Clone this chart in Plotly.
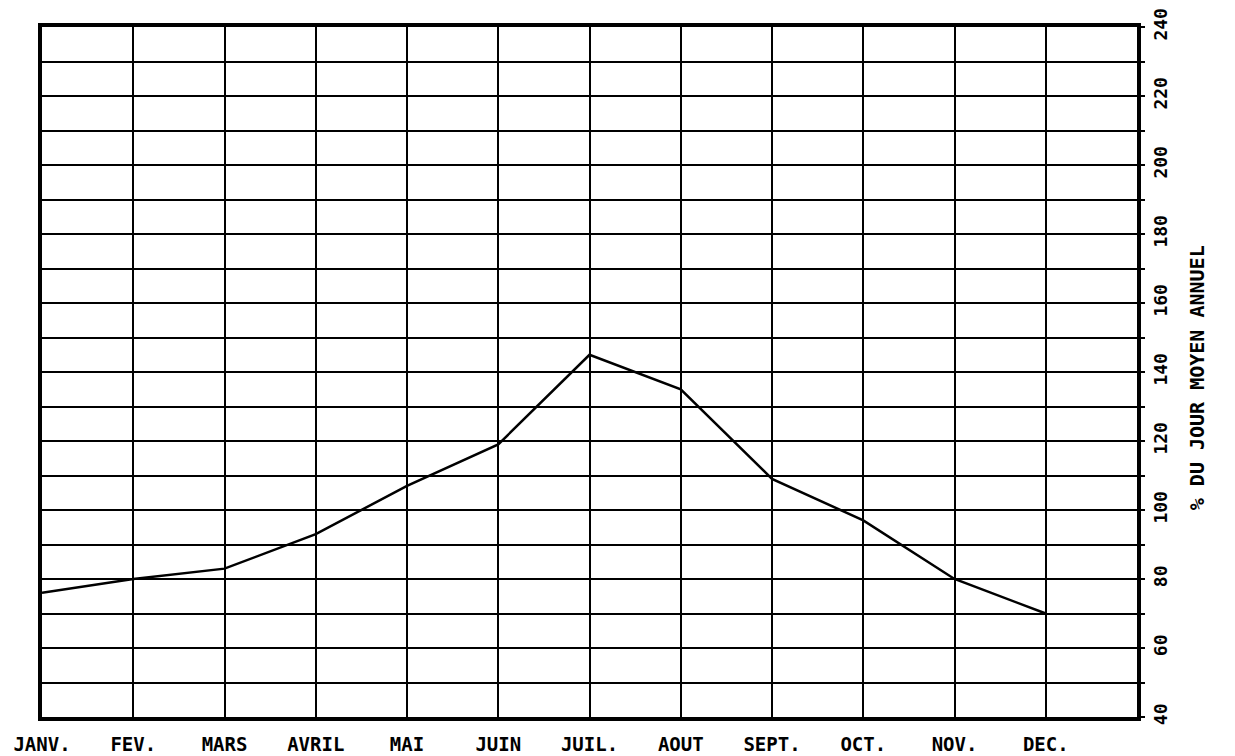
import plotly.graph_objects as go

months = ["JANV.", "FEV.", "MARS", "AVRIL", "MAI", "JUIN", "JUIL.", "AOUT", "SEPT.", "OCT.", "NOV.", "DEC."]
month_pos = [0, 1, 2, 3, 4, 5, 6, 7, 8, 9, 10, 11]
values = [76, 80, 83, 93, 107, 119, 145, 135, 109, 97, 80, 70]
y_ticks = [40, 60, 80, 100, 120, 140, 160, 180, 200, 220, 240]
y_title = "% DU JOUR MOYEN ANNUEL"

FONT = "DejaVu Sans Mono"

fig = go.Figure()
fig.add_trace(go.Scatter(x=month_pos, y=values, mode="lines",
                         line=dict(color="black", width=2.5), showlegend=False,
                         hoverinfo="skip"))

fig.update_layout(
    width=1227, height=748,
    margin=dict(l=34, r=98, t=19, b=39),
    paper_bgcolor="white", plot_bgcolor="white",
    font=dict(family=FONT, color="black"),
    xaxis=dict(range=[0, 12], tickvals=month_pos, ticktext=months,
               showgrid=True, gridcolor="black", gridwidth=2,
               showline=True, linecolor="black", linewidth=4, mirror=True,
               ticks="", zeroline=False, automargin=False, ticklabelstandoff=7,
               tickfont=dict(family=FONT, size=19, color="black", weight="bold")),
    yaxis=dict(range=[40, 240], side="right", tickvals=y_ticks,
               showgrid=True, gridcolor="black", gridwidth=2,
               minor=dict(dtick=10, tick0=40, showgrid=True, gridcolor="black", gridwidth=2,
                          ticks="outside", ticklen=4, tickcolor="black"),
               showline=True, linecolor="black", linewidth=4, mirror=True,
               ticks="outside", ticklen=4, tickcolor="black", tickwidth=2,
               zeroline=False, tickangle=-90, ticklabelstandoff=0, automargin=False,
               tickfont=dict(family=FONT, size=18, color="black", weight="bold")),
    annotations=[dict(text=y_title, xref="paper", yref="paper", x=1.0548, y=0.491,
                      xanchor="center", yanchor="middle", textangle=-90, showarrow=False,
                      font=dict(family=FONT, size=20, color="black", weight="bold"))],
)

fig.write_html("out.html")
